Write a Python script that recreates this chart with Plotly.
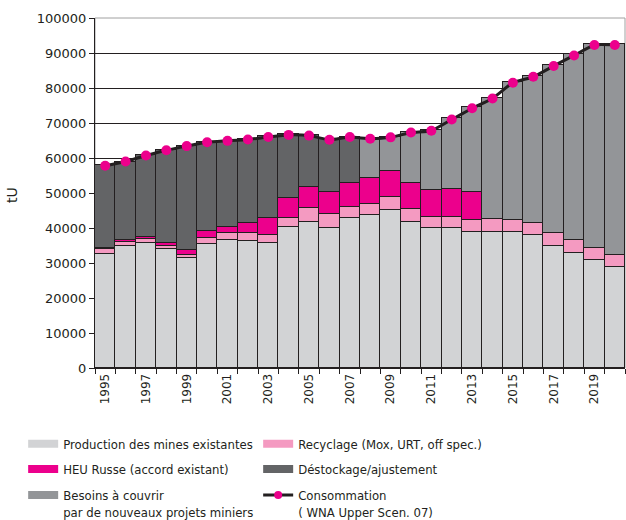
import plotly.graph_objects as go

years = [str(y) for y in range(1995, 2021)]
tick_text = [y if int(y) % 2 == 1 else "" for y in years]

production = [32600, 34900, 35800, 33900, 31300, 35300, 36600, 36200, 35600, 40200,
              41600, 39900, 42800, 43700, 45100, 41600, 39900, 39900, 38900, 38900,
              38800, 38000, 34900, 33000, 31000, 28900]
recyclage = [1300, 1100, 1000, 1000, 1000, 1900, 1900, 2300, 2400, 2800,
             4000, 4000, 3100, 3300, 3700, 3700, 3300, 3300, 3400, 3600,
             3500, 3300, 3600, 3600, 3400, 3400]
heu = [300, 600, 700, 700, 1400, 1900, 1800, 2800, 4800, 5500,
       6200, 6300, 7000, 7200, 7600, 7700, 7700, 7900, 7900, 0,
       0, 0, 0, 0, 0, 0]
destockage = [23800, 22400, 23300, 26700, 29800, 25400, 24600, 24000, 23400, 18300,
              14800, 15200, 13200, 0, 0, 0, 0, 0, 0, 0,
              0, 0, 0, 0, 0, 0]
besoins = [0, 0, 0, 0, 0, 0, 0, 0, 0, 0,
           0, 0, 0, 11400, 9500, 14400, 17100, 20200, 24300, 34700,
           39500, 42100, 48100, 53100, 58100, 60200]
consommation = [57800, 59000, 60700, 62200, 63400, 64500, 64900, 65300, 66000, 66600,
                66400, 65200, 66000, 65500, 65900, 67300, 67800, 71000, 74200, 77000,
                81500, 83200, 86300, 89300, 92300, 92300]

names = ["Production des mines existantes", "Recyclage (Mox, URT, off spec.)",
         "HEU Russe (accord existant)", "Déstockage/ajustement",
         "Besoins à couvrir<br>par de nouveaux projets miniers"]
colors = ["#d2d3d5", "#f49ac1", "#ec008c", "#636466", "#939598"]
series = [production, recyclage, heu, destockage, besoins]
legend_ids = ["legend", "legend", "legend2", "legend2", "legend3"]

TEXT_FONT = "Liberation Sans Narrow, Arial Narrow, DejaVu Sans Condensed, sans-serif"
NUM_FONT = "DejaVu Sans, Verdana, sans-serif"

fig = go.Figure()
for vals, col in zip(series, colors):
    fig.add_trace(go.Bar(x=years, y=vals, marker=dict(color=col, line=dict(color="#231f20", width=1)),
                         showlegend=False))

fig.add_trace(go.Scatter(x=years, y=consommation, mode="lines+markers",
                         line=dict(color="#231f20", width=3, shape="spline", smoothing=0.5),
                         marker=dict(color="#ec008c", size=10), showlegend=False))

# legend entries (no data of their own)
for nm, col, lg in zip(names, colors, legend_ids):
    fig.add_trace(go.Scatter(x=[years[0]], y=[None], mode="lines", name=nm, legend=lg,
                             line=dict(color=col, width=8)))
fig.add_trace(go.Scatter(x=[years[0]], y=[None], mode="lines+markers",
                         name="Consommation<br>( WNA Upper Scen. 07)", legend="legend3",
                         line=dict(color="#231f20", width=3),
                         marker=dict(color="#ec008c", size=8)))


def leg(y):
    return dict(orientation="h", xref="container", x=0.037, xanchor="left",
                yref="paper", y=y, yanchor="top",
                entrywidth=190, entrywidthmode="pixels", itemwidth=30, valign="top",
                traceorder="normal", bgcolor="rgba(0,0,0,0)",
                font=dict(family=TEXT_FONT, size=13, color="#231f20"),
                tracegroupgap=0, itemclick=False, itemdoubleclick=False)


fig.update_layout(
    width=626, height=520,
    margin=dict(l=95, r=1, t=18, b=152, autoexpand=False),
    barmode="stack", bargap=0,
    plot_bgcolor="white", paper_bgcolor="white",
    font=dict(family=TEXT_FONT, size=13, color="#231f20"),
    legend=leg(-0.174),
    legend2=leg(-0.246),
    legend3=leg(-0.32),
    shapes=[dict(type="rect", xref="paper", yref="paper", x0=0, x1=1, y0=0, y1=1,
                 line=dict(color="#a0a0a0", width=1), layer="below")],
    annotations=[dict(text="tU", xref="paper", yref="paper", x=-0.157, y=0.494,
                      xanchor="center", yanchor="middle", textangle=-90, showarrow=False,
                      font=dict(family=NUM_FONT, size=14, color="#231f20"))],
)
fig.update_xaxes(type="category", range=[-0.5, len(years) - 0.5],
                 tickvals=years, ticktext=tick_text, tickson="boundaries",
                 tickangle=-90, ticks="outside", ticklen=5, tickcolor="#231f20",
                 showline=True, linecolor="#231f20", linewidth=1,
                 tickfont=dict(family=NUM_FONT, size=12, color="#231f20"),
                 showgrid=False, automargin=False)
fig.update_yaxes(range=[0, 100000], dtick=10000, tickformat="d", ticks="outside", ticklen=5,
                 tickcolor="#231f20", showline=True, linecolor="#231f20", linewidth=1,
                 showgrid=True, gridcolor="#231f20", gridwidth=1,
                 tickfont=dict(family=NUM_FONT, size=13, color="#231f20"),
                 zeroline=False, automargin=False)

fig.write_html("out.html", config={"displayModeBar": False},
               post_script="document.body.style.margin='0';")
